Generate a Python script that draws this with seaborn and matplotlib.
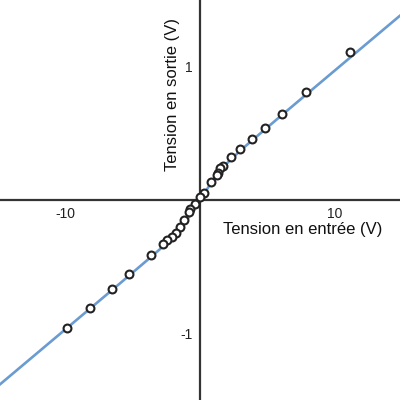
import numpy as np
import pandas as pd
import matplotlib
matplotlib.use("Agg")
import matplotlib.pyplot as plt
import seaborn as sns

# measured points (input V, output V)
v_in = [11.14, 7.85, 6.07, 4.85, 3.84, 2.95, 2.30, 1.69, 1.51, 1.36, 1.25, 0.84,
        0.27, 0.02, -0.37, -0.72, -0.79, -1.17, -1.49, -1.81, -2.10, -2.43,
        -2.73, -3.62, -5.27, -6.52, -8.20, -9.86]
v_out = [1.108, 0.808, 0.645, 0.540, 0.455, 0.385, 0.325, 0.255, 0.238, 0.205,
         0.190, 0.137, 0.055, 0.023, -0.032, -0.065, -0.092, -0.150, -0.200,
         -0.250, -0.275, -0.300, -0.328, -0.413, -0.557, -0.665, -0.810, -0.958]

# fitted curve
fit_in = [-14.9, -10, -6, -4, -3, -2, -1, 0, 1, 2, 3, 4, 6, 10, 14.9]
fit_out = [-1.386, -0.970, -0.630, -0.458, -0.371, -0.275, -0.155, 0.0,
           0.155, 0.275, 0.371, 0.458, 0.630, 0.970, 1.386]

pts = pd.DataFrame({"vin": v_in, "vout": v_out})
fit = pd.DataFrame({"vin": fit_in, "vout": fit_out})

sns.set_style("white")
plt.rcParams["font.family"] = ["Liberation Sans", "DejaVu Sans"]

fig = plt.figure(figsize=(4, 4), dpi=100)
ax = fig.add_axes([0, 0, 1, 1])

sns.lineplot(data=fit, x="vin", y="vout", color="#6a9bd1", linewidth=1.9,
             sort=False, ax=ax, zorder=2)
sns.scatterplot(data=pts, x="vin", y="vout", marker="o", s=32,
                facecolor="white", edgecolor="#222222", linewidth=1.5,
                ax=ax, zorder=3)

ax.set_xlim(-14.86, 14.86)
ax.set_ylim(-1.5, 1.5)

for side in ["top", "right"]:
    ax.spines[side].set_visible(False)
ax.spines["left"].set_position("zero")
ax.spines["bottom"].set_position("zero")
for side in ["left", "bottom"]:
    ax.spines[side].set_color("#333333")
    ax.spines[side].set_linewidth(1.6)

ax.set_xticks([-10, 10])
ax.set_yticks([-1, 1])
ax.set_xticklabels(["-10", "10"])
ax.set_yticklabels(["-1", "1"])
ax.tick_params(axis="x", length=0, pad=5, labelsize=10, colors="#222222")
ax.tick_params(axis="y", length=0, pad=5, labelsize=10, colors="#222222")

ax.set_xlabel("")
ax.set_ylabel("")
ax.text(7.65, -0.22, "Tension en entrée (V)", ha="center", va="center",
        fontsize=12, color="#111111")
ax.text(-2.05, 0.79, "Tension en sortie (V)", ha="center", va="center",
        rotation=90, fontsize=12, color="#111111")

fig.savefig("out.png", dpi=100)
